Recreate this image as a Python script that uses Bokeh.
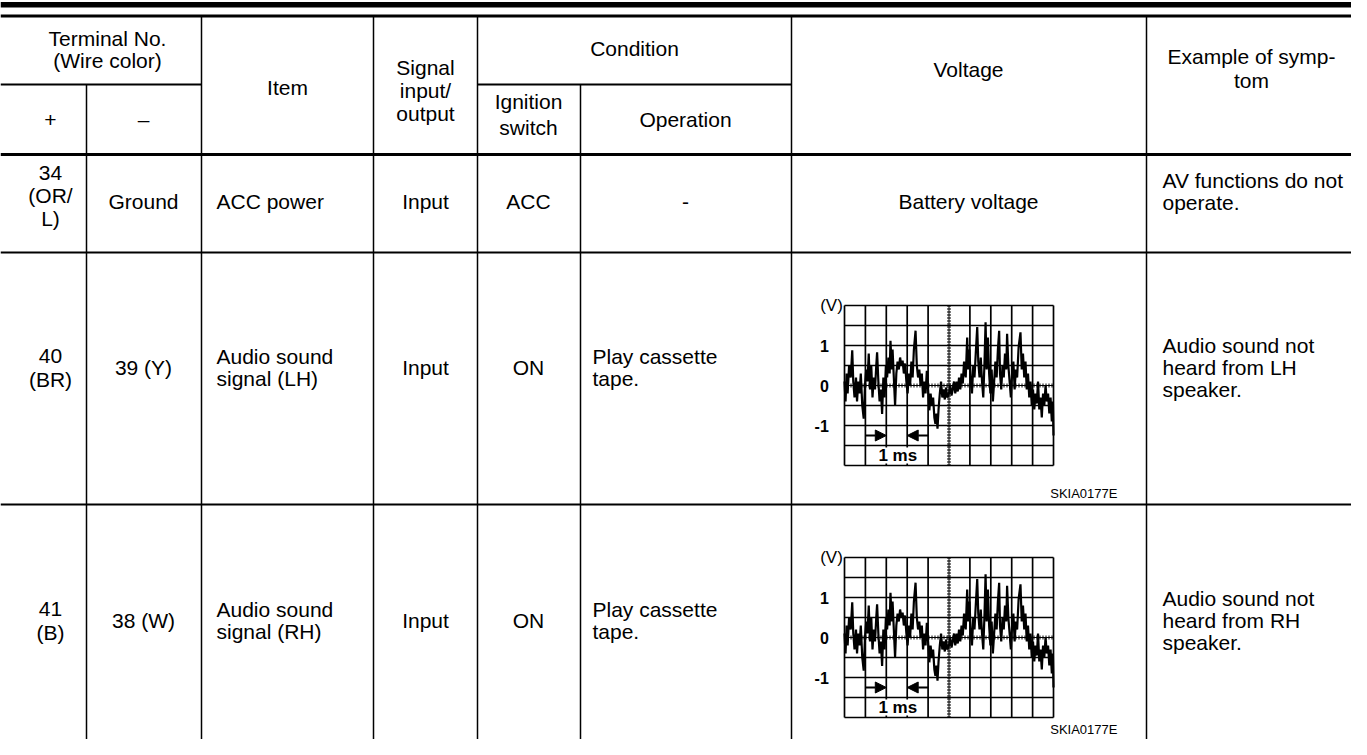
from bokeh.plotting import figure
from bokeh.models import Range1d, ColumnDataSource, Arrow, NormalHead
from bokeh.core.properties import value
from bokeh.embed import file_html
from bokeh.resources import INLINE

# ---------------- DATA ----------------
header_terminal = ["Terminal No.", "(Wire color)"]
header_plus_minus = ["+", "\u2013"]
header_item = ["Item"]
header_signal = ["Signal", "input/", "output"]
header_condition = ["Condition"]
header_ignition = ["Ignition", "switch"]
header_operation = ["Operation"]
header_voltage = ["Voltage"]
header_symptom = ["Example of symp-", "tom"]

col_plus = [["34", "(OR/", "L)"], ["40", "(BR)"], ["41", "(B)"]]
col_minus = [["Ground"], ["39 (Y)"], ["38 (W)"]]
col_item = [["ACC power"], ["Audio sound", "signal (LH)"], ["Audio sound", "signal (RH)"]]
col_signal = [["Input"], ["Input"], ["Input"]]
col_ignition = [["ACC"], ["ON"], ["ON"]]
col_operation = [["-"], ["Play cassette", "tape."], ["Play cassette", "tape."]]
col_voltage = [["Battery voltage"], None, None]
col_symptom = [["AV functions do not", "operate."],
               ["Audio sound not", "heard from LH", "speaker."],
               ["Audio sound not", "heard from RH", "speaker."]]

# waveform (SKIA0177E): time in ms, voltage in V
wave_t = [0.00, 0.05, 0.10, 0.15, 0.22, 0.30, 0.37, 0.42, 0.48, 0.55, 0.60, 0.66, 0.72, 0.78, 0.85, 0.92,
          0.98, 1.04, 1.10, 1.16, 1.22, 1.28, 1.34, 1.40, 1.46, 1.52, 1.56, 1.62, 1.68, 1.74, 1.80, 1.86,
          1.92, 1.98, 2.04, 2.10, 2.16, 2.20, 2.26, 2.30, 2.36, 2.42, 2.48, 2.54, 2.60, 2.66, 2.72, 2.78,
          2.84, 2.90, 2.96, 3.02, 3.08, 3.14, 3.20, 3.26, 3.32, 3.40, 3.46, 3.52, 3.58, 3.64, 3.70, 3.76,
          3.82, 3.88, 3.94, 4.00, 4.06, 4.12, 4.18, 4.24, 4.30, 4.35, 4.40, 4.45, 4.50, 4.56, 4.62, 4.68,
          4.74, 4.80, 4.86, 4.92, 5.00, 5.06, 5.12, 5.18, 5.24, 5.30, 5.36, 5.42, 5.48, 5.54, 5.60, 5.66,
          5.72, 5.80, 5.87, 5.92, 5.98, 6.04, 6.10, 6.16, 6.22, 6.28, 6.35, 6.40, 6.46, 6.52, 6.58, 6.64,
          6.70, 6.75, 6.80, 6.86, 6.92, 6.98, 7.04, 7.10, 7.16, 7.22, 7.28, 7.34, 7.40, 7.44, 7.50, 7.56,
          7.62, 7.68, 7.74, 7.78, 7.84, 7.90, 7.96, 8.02, 8.08, 8.14, 8.20, 8.26, 8.33, 8.42, 8.48, 8.54,
          8.60, 8.66, 8.72, 8.78, 8.84, 8.90, 8.96, 9.02, 9.08, 9.14, 9.20, 9.26, 9.32, 9.38, 9.44, 9.50,
          9.56, 9.62, 9.68, 9.74, 9.80, 9.86, 9.92, 9.97, 10.0]
wave_v = [0.10, -0.40, 0.30, -0.20, 0.50, 0.20, 0.88, 0.10, -0.30, 0.20, -0.40, 0.10, -0.20, 0.30, -0.50, -0.83,
          0.00, 0.40, 0.10, 0.80, -0.10, 0.50, -0.30, 0.20, -0.10, 0.50, 0.83, 0.10, -0.40, -0.10, -0.71, 0.20,
          -0.30, 0.50, 0.20, 0.70, 0.30, 1.12, 0.40, 0.90, 0.20, -0.50, 0.30, 0.60, 0.40, 0.70, 0.50, 0.62,
          0.30, 0.55, 0.10, -0.20, 0.30, 0.00, 0.60, 0.20, 0.90, 1.37, 0.50, 0.20, 0.40, 0.00, 0.30, -0.30,
          0.10, -0.20, 0.37, -0.10, -0.62, -0.20, -0.50, -0.30, -0.80, -0.96, -0.70, -1.08, -0.60, -0.20, 0.10, -0.30,
          -0.10, -0.35, -0.05, -0.30, -0.20, 0.00, -0.25, -0.10, 0.10, -0.20, 0.10, -0.15, 0.20, -0.10, 0.30, 0.05,
          0.60, 0.20, 1.20, 0.40, 0.90, 0.10, -0.20, 0.50, 0.20, 0.80, 1.46, 0.60, 0.20, 0.70, 0.10, -0.30,
          0.60, 1.58, 0.40, 1.20, 0.30, -0.20, 0.40, -0.40, 0.10, 0.60, 0.20, 0.90, 1.37, 0.30, -0.10, 0.50,
          0.20, 0.80, 0.40, 1.29, 0.50, 0.10, -0.30, 0.30, 0.60, -0.10, 0.40, 0.20, 0.95, 1.33, 0.40, 0.80,
          0.20, 0.60, -0.10, 0.30, -0.30, 0.10, -0.50, -0.10, -0.60, -0.20, -0.45, 0.10, -0.60, -0.30, -0.80, -0.20,
          -0.50, 0.00, -0.40, -0.20, -0.70, -0.30, -0.90, -0.40, -1.25]
volt_ticks = [1, 0, -1]
volt_tick_labels = ["1", "0", "-1"]
volt_unit = "(V)"
time_label = "1 ms"
figure_code = "SKIA0177E"

# ---------------- LAYOUT (reference pixels) ----------------
W, H = 1351, 739
FONT = "Liberation Sans"
FS = "21px"
LH = 22

p = figure(width=W, height=H, output_backend="svg", toolbar_location=None,
           x_range=Range1d(0, W), y_range=Range1d(H, 0),
           x_axis_type=None, y_axis_type=None, min_border=0)
p.outline_line_color = None
p.grid.visible = False
p.background_fill_color = "white"
p.border_fill_color = "white"

X0, X1 = 0, W + 20
VX = [86, 201, 373, 477, 580, 791, 1146]
Y_HTOP, Y_HMID, Y_HBOT = 16, 84, 154
ROW_BOT = [252, 504]

# top double rule
p.quad(left=X0, right=X1, top=1.5, bottom=7, fill_color="black", line_color=None)
p.segment(x0=[X0], y0=[15.5], x1=[X1], y1=[15.5], line_color="black", line_width=3)

# horizontal rules
p.segment(x0=[X0, 477], y0=[Y_HMID, Y_HMID], x1=[201, 791], y1=[Y_HMID, Y_HMID],
          line_color="black", line_width=2)
p.segment(x0=[X0], y0=[Y_HBOT], x1=[X1], y1=[Y_HBOT], line_color="black", line_width=3)
p.segment(x0=[X0, X0], y0=ROW_BOT, x1=[X1, X1], y1=ROW_BOT, line_color="black", line_width=2)

# vertical rules
vy0 = [Y_HMID if x in (86, 580) else Y_HTOP for x in VX]
p.segment(x0=VX, y0=vy0, x1=VX, y1=[H + 20] * len(VX), line_color="black", line_width=1.5)


def put(lines, x, yc, align="center", lh=LH):
    if lines is None:
        return
    n = len(lines)
    for i, s in enumerate(lines):
        y = yc + (i - (n - 1) / 2) * lh
        p.text(x=[x], y=[y], text=[s], text_font=value(FONT), text_font_size=FS,
               text_align=align, text_baseline="middle", text_color="black")


# header
put(header_terminal, 107, 49)
put([header_plus_minus[0]], 50, 119)
put([header_plus_minus[1]], 143, 119)
put(header_item, 287, 87)
put(header_signal, 425, 90, lh=23)
put(header_condition, 634, 48)
put(header_ignition, 528, 114, lh=26)
put(header_operation, 685, 119)
put(header_voltage, 968, 69)
put(header_symptom, 1251, 68, lh=24)

row_c = [201, 367, 620]
row_c_multi = [195, 367, 620]
for r in range(3):
    yc = row_c[r]
    put(col_plus[r], 50, row_c_multi[r], lh=23)
    put(col_minus[r], 143, yc)
    put(col_item[r], 216, yc, align="left")
    put(col_signal[r], 425, yc)
    put(col_ignition[r], 528, yc)
    if col_operation[r] == ["-"]:
        put(col_operation[r], 685, yc)
    else:
        put(col_operation[r], 592, yc, align="left")
    put(col_voltage[r], 968, yc)
    put(col_symptom[r], 1162, yc - (10 if r == 0 else 0), align="left")

# ---------------- waveforms ----------------
GX0, GX1 = 844, 1053            # grid box x (0..10 ms)
PX_PER_MS = (GX1 - GX0) / 10.0
PX_PER_V = 40.0
wave_src = ColumnDataSource(dict(t=wave_t, v=wave_v))
p.extra_x_ranges["ms"] = Range1d((0 - GX0) / PX_PER_MS, (W - GX0) / PX_PER_MS)

for k, off in enumerate([0, 252]):
    gtop = 305 + off
    rn = "v%d" % k
    p.extra_y_ranges[rn] = Range1d(2 - (H - gtop) / PX_PER_V, 2 + gtop / PX_PER_V)
    kw = dict(x_range_name="ms", y_range_name=rn)
    # grid
    gx = [i for i in range(11) if i != 5]
    p.segment(x0=gx, y0=[-2] * len(gx), x1=gx, y1=[2] * len(gx), line_color="black", line_width=1.7, **kw)
    gy = [i * 0.5 - 2 for i in range(9) if i != 4]
    p.segment(x0=[0] * len(gy), y0=gy, x1=[10] * len(gy), y1=gy, line_color="black", line_width=1.7, **kw)
    # dotted centre lines
    p.segment(x0=[5, 0], y0=[-2, 0], x1=[5, 10], y1=[2, 0], line_color="black", line_width=1, **kw)
    p.segment(x0=[5, 0], y0=[-2, 0], x1=[5, 10], y1=[2, 0], line_color="black", line_width=4,
              line_dash="1 2", **kw)
    # signal
    p.line(x="t", y="v", source=wave_src, line_color="black", line_width=2.2, **kw)
    # 1 ms marker
    p.quad(left=[1.1], right=[3.9], top=[-1.55], bottom=[-1.95], fill_color="white", line_color=None, **kw)
    p.text(x=[2.55], y=[-1.76], text=[time_label], text_font=value(FONT), text_font_size="17px",
           text_font_style="bold", text_align="center", text_baseline="middle", **kw)
    for xs, xe in [(1, 2), (4, 3)]:
        p.add_layout(Arrow(end=NormalHead(size=11, fill_color="black", line_color="black"),
                           x_start=xs, y_start=-1.25, x_end=xe, y_end=-1.25,
                           line_width=2, line_color="black", **kw))
    # axis labels
    p.text(x=[-0.75] * 3, y=volt_ticks, text=volt_tick_labels, text_font=value(FONT),
           text_font_size="16px", text_font_style="bold", text_align="right",
           text_baseline="middle", **kw)
    p.text(x=[-0.08], y=[2.0], text=[volt_unit], text_font=value(FONT), text_font_size="17px",
           text_align="right", text_baseline="middle", **kw)
    p.text(x=[13.06], y=[-2.7 if k == 0 else -2.3], text=[figure_code], text_font=value(FONT),
           text_font_size="13px", text_align="right", text_baseline="middle", **kw)

open("out.html", "w").write(file_html(p, INLINE))
